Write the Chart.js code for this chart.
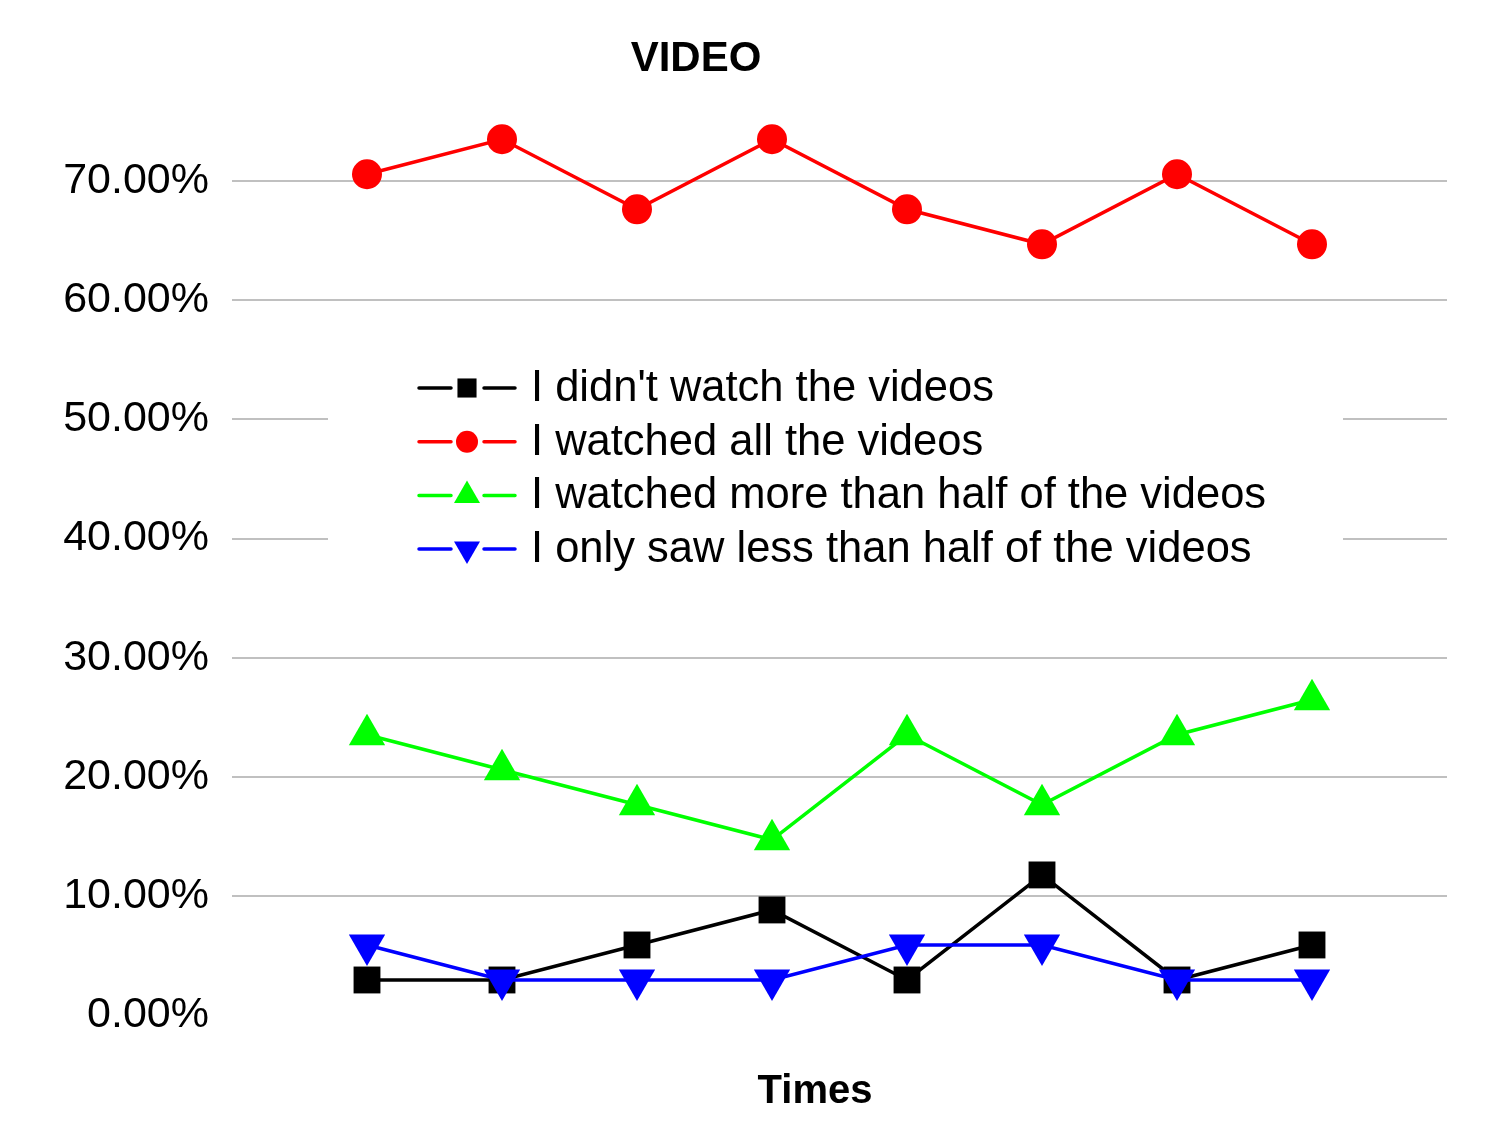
<!DOCTYPE html>
<html>
<head>
<meta charset="utf-8">
<script src="https://cdn.jsdelivr.net/npm/chart.js@4"></script>
<style>
html, body { margin: 0; padding: 0; background: #fff; }
#wrap { width: 1510px; height: 1145px; }
</style>
</head>
<body>
<div id="wrap"><canvas id="videoChart"></canvas></div>
<script>
// data (percent)
var times = ['1', '2', '3', '4', '5', '6', '7', '8'];
var notWatched = [2.94, 2.94, 5.88, 8.82, 2.94, 11.76, 2.94, 5.88];
var watchedAll = [70.59, 73.53, 67.65, 73.53, 67.65, 64.71, 70.59, 64.71];
var moreThanHalf = [23.53, 20.59, 17.65, 14.71, 23.53, 17.65, 23.53, 26.47];
var lessThanHalf = [5.88, 2.94, 2.94, 2.94, 5.88, 5.88, 2.94, 2.94];
var seriesNames = [
    "I didn't watch the videos",
    "I watched all the videos",
    "I watched more than half of the videos",
    "I only saw less than half of the videos"
];
var yTicks = [0, 10, 20, 30, 40, 50, 60, 70];

// empty category at each end so the points sit one step in from the edges
var labels = [''].concat(times).concat(['']);
function pad(arr) { return [null].concat(arr).concat([null]); }

var font = "'Liberation Sans', Arial, sans-serif";
var colors = ['#000000', '#ff0000', '#00ff00', '#0000ff'];
var styles = [
    { pointStyle: 'rect', radius: 19, rotation: 0 },
    { pointStyle: 'circle', radius: 15, rotation: 0 },
    { pointStyle: 'triangle', radius: 21, rotation: 0 },
    { pointStyle: 'triangle', radius: 21, rotation: 180 }
];
var legendStyles = [
    { pointStyle: 'rect', radius: 13.5, rotation: 0 },
    { pointStyle: 'circle', radius: 11, rotation: 0 },
    { pointStyle: 'triangle', radius: 15, rotation: 0 },
    { pointStyle: 'triangle', radius: 15, rotation: 180 }
];
var allSeries = [notWatched, watchedAll, moreThanHalf, lessThanHalf];

var datasets = allSeries.map(function (vals, i) {
    return {
        label: seriesNames[i],
        data: pad(vals),
        borderColor: colors[i],
        backgroundColor: colors[i],
        borderWidth: 3.5,
        pointStyle: styles[i].pointStyle,
        pointRadius: styles[i].radius,
        pointHoverRadius: styles[i].radius,
        pointRotation: styles[i].rotation,
        pointBorderWidth: 0,
        tension: 0,
        order: 4 - i
    };
});

// title, axis title and the legend box that sits inside the plot
var extras = {
    id: 'extras',
    afterDatasetsDraw: function (chart) {
        var ctx = chart.ctx;
        ctx.save();
        ctx.fillStyle = '#fff';
        ctx.fillRect(328, 362, 1015, 212);

        for (var i = 0; i < seriesNames.length; i++) {
            var y = 388 + i * 53.7;
            ctx.strokeStyle = colors[i];
            ctx.lineWidth = 3.5;
            ctx.lineCap = 'round';
            ctx.beginPath();
            ctx.moveTo(419, y); ctx.lineTo(451, y);
            ctx.moveTo(484, y); ctx.lineTo(515, y);
            ctx.stroke();
            ctx.fillStyle = colors[i];
            Chart.helpers.drawPoint(ctx, {
                pointStyle: legendStyles[i].pointStyle,
                radius: legendStyles[i].radius,
                rotation: legendStyles[i].rotation,
                borderWidth: 0
            }, 467, y);
            ctx.fillStyle = '#000';
            ctx.font = '43.5px ' + font;
            ctx.textAlign = 'left';
            ctx.textBaseline = 'middle';
            ctx.fillText(seriesNames[i], 531, y + 1);
        }

        ctx.fillStyle = '#000';
        ctx.textAlign = 'center';
        ctx.textBaseline = 'middle';
        ctx.font = 'bold 42px ' + font;
        ctx.fillText('VIDEO', 696, 59);
        ctx.font = 'bold 40px ' + font;
        ctx.fillText('Times', 815, 1092);
        ctx.restore();
    }
};

new Chart(document.getElementById('videoChart'), {
    type: 'line',
    data: {
        labels: labels,
        datasets: datasets
    },
    options: {
        responsive: true,
        maintainAspectRatio: false,
        animation: false,
        layout: {
            padding: { top: 86, right: 63, bottom: 130, left: 0 }
        },
        plugins: {
            legend: { display: false },
            title: { display: false },
            tooltip: { enabled: false }
        },
        scales: {
            x: {
                display: false,
                offset: false
            },
            y: {
                min: 0,
                max: 78,
                border: { display: false },
                grid: {
                    drawTicks: false,
                    lineWidth: 2,
                    color: function (c) {
                        return c.tick && c.tick.value === 0 ? 'rgba(0,0,0,0)' : '#c0c0c0';
                    }
                },
                ticks: {
                    stepSize: 10,
                    padding: 23,
                    color: '#000',
                    font: { family: font, size: 43 },
                    callback: function (v) { return v.toFixed(2) + '%'; }
                },
                afterBuildTicks: function (axis) {
                    axis.ticks = yTicks.map(function (v) { return { value: v }; });
                },
                afterFit: function (axis) {
                    axis.width = 232;
                }
            }
        }
    },
    plugins: [extras]
});
</script>
</body>
</html>
